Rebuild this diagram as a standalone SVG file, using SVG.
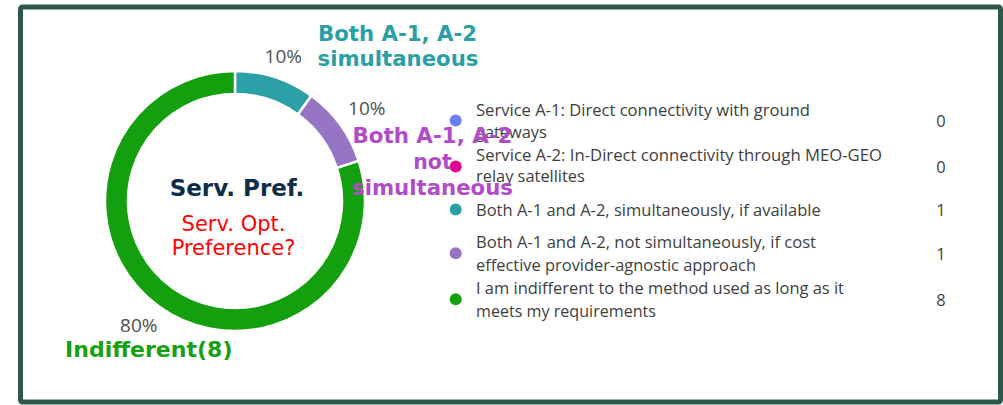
<svg xmlns="http://www.w3.org/2000/svg" width="1003" height="405" viewBox="0 0 1003 405">
<style>
.seg{stroke:#ffffff;stroke-width:2.5;stroke-linejoin:miter}
.pct{font-family:"Open Sans","Liberation Sans",sans-serif;font-size:19px;fill:#505050;text-anchor:end}
.lbl{font-family:"DejaVu Sans","Liberation Sans",sans-serif;font-weight:bold;font-size:20.5px}
.lg{font-family:"Open Sans","Liberation Sans",sans-serif;font-size:16.4px;fill:#3e3e3e}
.cnt{font-family:"Open Sans","Liberation Sans",sans-serif;font-size:16.4px;fill:#3e3e3e;text-anchor:middle}
.title{font-family:"DejaVu Sans","Liberation Sans",sans-serif;font-weight:bold;font-size:23px;fill:#0d2d48;text-anchor:middle}
.sub{font-family:"DejaVu Sans","Liberation Sans",sans-serif;font-size:21px;fill:#ff0000;text-anchor:middle}
</style>
<rect x="0" y="0" width="1003" height="405" fill="#ffffff"/>
<g id="frame">
<rect x="20.5" y="7" width="980" height="395" rx="2" fill="#ffffff" stroke="#2e5849" stroke-width="5"/>
</g>
<g id="donut">
<path id="seg-simul" class="seg" fill="#2ba0a6" d="M 235 71 A 130 130 0 0 1 311.41 95.83 L 297.89 114.44 A 107 107 0 0 0 235 94 Z"/>
<path id="seg-notsimul" class="seg" fill="#9575c4" d="M 311.41 95.83 A 130 130 0 0 1 358.64 160.83 L 336.77 167.94 A 107 107 0 0 0 297.89 114.44 Z"/>
<path id="seg-indiff" class="seg" fill="#14a00e" d="M 358.64 160.83 A 130 130 0 1 1 235 71 L 235 94 A 107 107 0 1 0 336.77 167.94 Z"/>
</g>
<g id="percentages">
<text class="pct" x="302" y="63">10%</text>
<text class="pct" x="385.5" y="114.5">10%</text>
<text class="pct" x="157.5" y="331.7">80%</text>
</g>
<g id="center-title">
<text class="title" x="237" y="196">Serv. Pref.</text>
<text class="sub" x="233.5" y="231">Serv. Opt.</text>
<text class="sub" x="233.5" y="255">Preference?</text>
</g>
<g id="legend">
<g id="legend-a1">
<circle cx="455.7" cy="120.5" r="6" fill="#6a7ff1"/>
<text class="lg" x="476" y="115.5" textLength="334" lengthAdjust="spacingAndGlyphs">Service A-1: Direct connectivity with ground</text>
<text class="lg" x="476" y="138">gateways</text>
<text class="cnt" x="941" y="126.5">0</text>
</g>
<g id="legend-a2">
<circle cx="455.7" cy="166.5" r="6" fill="#e3008c"/>
<text class="lg" x="476" y="161" textLength="406" lengthAdjust="spacingAndGlyphs">Service A-2: In-Direct connectivity through MEO-GEO</text>
<text class="lg" x="476" y="182">relay satellites</text>
<text class="cnt" x="941" y="173">0</text>
</g>
<g id="legend-both-simul">
<circle cx="455.7" cy="209.5" r="6" fill="#2ba0a6"/>
<text class="lg" x="476" y="216" textLength="344.7" lengthAdjust="spacingAndGlyphs">Both A-1 and A-2, simultaneously, if available</text>
<text class="cnt" x="941" y="216">1</text>
</g>
<g id="legend-both-notsimul">
<circle cx="455.7" cy="253.3" r="6" fill="#9575c4"/>
<text class="lg" x="476" y="248" textLength="340" lengthAdjust="spacingAndGlyphs">Both A-1 and A-2, not simultaneously, if cost</text>
<text class="lg" x="476" y="270.5" textLength="280" lengthAdjust="spacingAndGlyphs">effective provider-agnostic approach</text>
<text class="cnt" x="941" y="260">1</text>
</g>
<g id="legend-indiff">
<circle cx="455.7" cy="299.3" r="6" fill="#14a00e"/>
<text class="lg" x="476" y="294" textLength="368" lengthAdjust="spacingAndGlyphs">I am indifferent to the method used as long as it</text>
<text class="lg" x="476" y="316.5" textLength="180" lengthAdjust="spacingAndGlyphs">meets my requirements</text>
<text class="cnt" x="941" y="305.5">8</text>
</g>
</g>
<g id="label-simul" class="lbl" fill="#2a9fa5">
<text x="318" y="41" textLength="159" lengthAdjust="spacingAndGlyphs">Both A-1, A-2</text>
<text x="317.5" y="65.5" textLength="161" lengthAdjust="spacingAndGlyphs">simultaneous</text>
</g>
<g id="label-notsimul" class="lbl" fill="#b04cc8" text-anchor="middle">
<text x="432.5" y="143" textLength="160" lengthAdjust="spacingAndGlyphs">Both A-1, A-2</text>
<text x="432.5" y="168.5">not</text>
<text x="432.5" y="194.5" textLength="161" lengthAdjust="spacingAndGlyphs">simultaneous</text>
</g>
<g id="label-indiff" class="lbl" fill="#18a014">
<text x="65" y="357" textLength="167.5" lengthAdjust="spacingAndGlyphs">Indifferent(8)</text>
</g>
</svg>
